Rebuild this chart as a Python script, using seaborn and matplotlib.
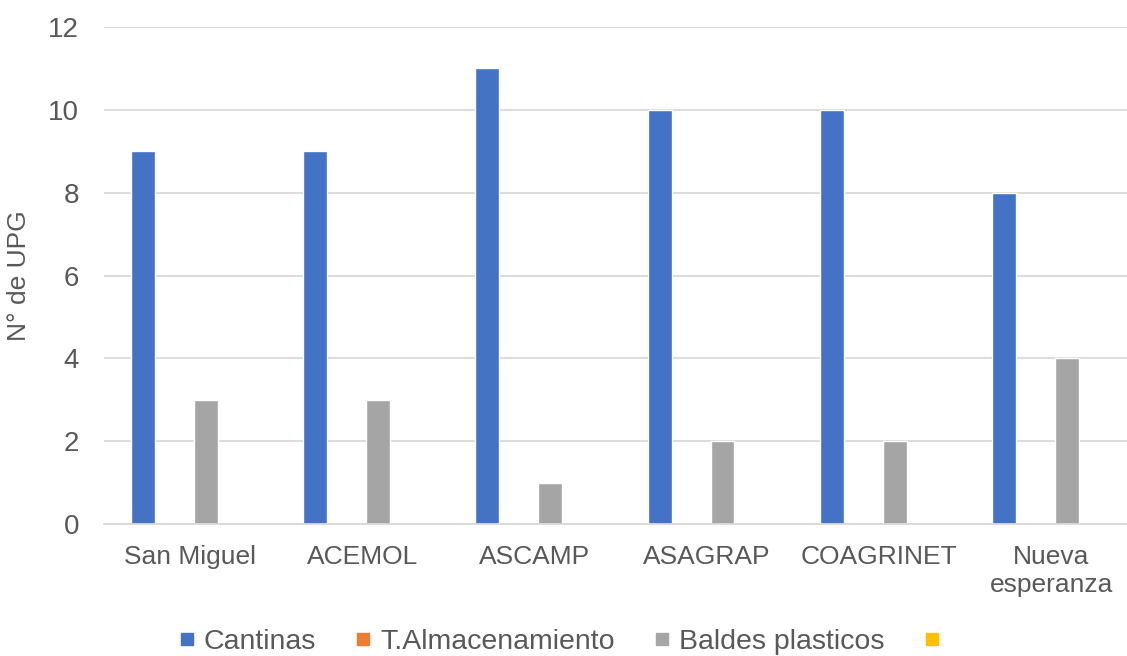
import matplotlib
matplotlib.use("Agg")
import matplotlib.pyplot as plt
from matplotlib.lines import Line2D
import seaborn as sns
import pandas as pd

organizaciones = ["San Miguel", "ACEMOL", "ASCAMP", "ASAGRAP", "COAGRINET", "Nueva\nesperanza"]
series = ["Cantinas", "T.Almacenamiento", "Baldes plasticos", ""]
cantinas = [9, 9, 11, 10, 10, 8]
almacenamiento = [0, 0, 0, 0, 0, 0]
baldes = [3, 3, 1, 2, 2, 4]
otro = [0, 0, 0, 0, 0, 0]
colores = ["#4472C4", "#ED7D31", "#A5A5A5", "#FFC000"]
yticks = [0, 2, 4, 6, 8, 10, 12]

rows = []
for serie, valores in zip(series, [cantinas, almacenamiento, baldes, otro]):
    for org, v in zip(organizaciones, valores):
        rows.append({"org": org, "serie": serie if serie else "otro", "val": v})
df = pd.DataFrame(rows)
hue_order = [s if s else "otro" for s in series]

sns.set_style("white")
plt.rcParams["font.family"] = ["Liberation Sans", "DejaVu Sans"]
texto = "#595959"

fig = plt.figure(figsize=(11.27, 6.56), dpi=100)
ax = fig.add_axes([104 / 1127, 132 / 656, 1023 / 1127, 497 / 656])

sns.barplot(data=df, x="org", y="val", hue="serie", hue_order=hue_order,
            order=organizaciones, palette=colores, saturation=1,
            width=0.73, gap=0.24, edgecolor="white", linewidth=1.0,
            legend=False, ax=ax, zorder=2)

ax.set_ylim(0, 12)
ax.set_xlim(-0.5, 5.44)
ax.set_yticks(yticks)
ax.yaxis.grid(True, color="#D9D9D9", linewidth=1.3, zorder=0)
ax.set_axisbelow(True)
for s in ["top", "right", "left"]:
    ax.spines[s].set_visible(False)
ax.spines["bottom"].set_color("#D9D9D9")
ax.spines["bottom"].set_linewidth(1.3)
ax.spines["bottom"].set_zorder(3)

ax.tick_params(axis="y", length=0, pad=18, labelsize=20, labelcolor=texto)
ax.tick_params(axis="x", length=0, pad=15, labelsize=19, labelcolor=texto)
ax.set_xlabel("")
ax.set_ylabel("N° de UPG", fontsize=19, color=texto, labelpad=12)

handles = [Line2D([], [], marker="s", linestyle="none", markersize=8.5,
                  markerfacecolor=c, markeredgecolor=c) for c in colores]
fig.legend(handles, series, loc="center", bbox_to_anchor=(0.5, 14 / 656),
           ncol=4, frameon=False, fontsize=20.5, labelcolor=texto,
           handlelength=0.6, handletextpad=0.3, columnspacing=1.35)

fig.savefig("out.png", dpi=100)
